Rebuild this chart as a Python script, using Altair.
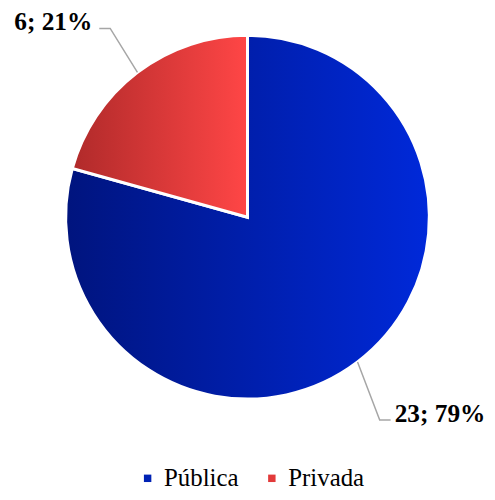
import altair as alt
import pandas as pd
import numpy as np

# ---- data ----
categories = ["Pública", "Privada"]
counts = [23, 6]
percents = [79, 21]
legend_colors = ["#0022B4", "#E23A3A"]

# ---- layout constants ----
W, H = 482, 418
R = 183
XMAX = (W / 2) / R
YMAX = (H / 2) / R
FONT = "Liberation Serif, Times New Roman, serif"
# label elbow end point (unit radius coords, y downward), text side, text gap
LABEL_ANCHOR = {"Pública": (0.787, 1.115, "left", 0.022),
                "Privada": (-0.815, -1.038, "right", 0.038)}

total = sum(counts)
df = pd.DataFrame({
    "cat": categories,
    "val": counts,
    "idx": list(range(len(categories))),
    "label": [f"{c}; {p}%" for c, p in zip(counts, percents)],
})

rows = []
labels = []
cum = 0
for c, v, lab in zip(categories, counts, df["label"]):
    mid = (cum + v / 2) / total * 2 * np.pi
    cum += v
    x0, y0 = np.sin(mid), -np.cos(mid)
    ax, ay, side, gap = LABEL_ANCHOR[c]
    sgn = 1 if side == "left" else -1
    ex = ax - sgn * 0.06
    rows += [
        {"cat": c, "step": 0, "x": x0, "y": y0},
        {"cat": c, "step": 1, "x": ex, "y": ay},
        {"cat": c, "step": 2, "x": ax, "y": ay},
    ]
    labels.append({"cat": c, "label": lab, "x": ax + sgn * gap, "y": ay, "side": side})
lines_df = pd.DataFrame(rows)
labels_df = pd.DataFrame(labels)

grad_blue = {"gradient": "linear", "x1": 0, "x2": 1, "y1": 0, "y2": 0,
             "stops": [{"offset": 0, "color": "#00147E"}, {"offset": 1, "color": "#0029DA"}]}
grad_red = {"gradient": "linear", "x1": 0, "x2": 1, "y1": 0, "y2": 0,
            "stops": [{"offset": 0, "color": "#B02A2A"}, {"offset": 1, "color": "#FF4646"}]}

xs = alt.Scale(domain=[-XMAX, XMAX])
ys = alt.Scale(domain=[-YMAX, YMAX], reverse=True)

legend_layer = alt.Chart(df).mark_square(size=40, opacity=1).encode(
    x=alt.value(W / 2 + 60),
    y=alt.value(H / 2 + 40),
    color=alt.Color("cat:N", sort=categories,
                    scale=alt.Scale(domain=categories, range=legend_colors),
                    legend=alt.Legend(orient="none", direction="horizontal", legendX=128, legendY=459,
                                      title=None, symbolType="square", padding=0,
                                      symbolSize=56, symbolStrokeWidth=0,
                                      labelFont=FONT, labelFontSize=25, labelColor="#000000",
                                      labelOffset=4, columnPadding=21)),
)

pie = alt.Chart(df).mark_arc(outerRadius=R, stroke="white", strokeWidth=3).encode(
    theta=alt.Theta("val:Q", stack=True),
    order=alt.Order("idx:Q"),
    detail="cat:N",
    fill=alt.condition(alt.datum.cat == "Pública", alt.value(grad_blue), alt.value(grad_red)),
)

lines = alt.Chart(lines_df).mark_line(color="#A6A6A6", strokeWidth=1.5).encode(
    x=alt.X("x:Q", scale=xs, axis=None),
    y=alt.Y("y:Q", scale=ys, axis=None),
    detail="cat:N",
    order="step:Q",
)

text_left = alt.Chart(labels_df).transform_filter(alt.datum.side == "left").mark_text(
    align="left", baseline="middle", dy=-6, font=FONT, fontSize=25.5, fontWeight="bold", color="#000000"
).encode(x=alt.X("x:Q", scale=xs, axis=None), y=alt.Y("y:Q", scale=ys, axis=None), text="label:N")

text_right = alt.Chart(labels_df).transform_filter(alt.datum.side == "right").mark_text(
    align="right", baseline="middle", dy=-6, font=FONT, fontSize=25.5, fontWeight="bold", color="#000000"
).encode(x=alt.X("x:Q", scale=xs, axis=None), y=alt.Y("y:Q", scale=ys, axis=None), text="label:N")

chart = alt.layer(legend_layer, pie, lines, text_left, text_right).properties(
    width=W, height=H, background="white",
    autosize=alt.AutoSizeParams(type="none"),
    padding={"left": 0, "top": 0, "right": 0, "bottom": 66},
).configure_view(stroke=None)

chart.save("out.html", embed_options={"renderer": "svg", "actions": False})
